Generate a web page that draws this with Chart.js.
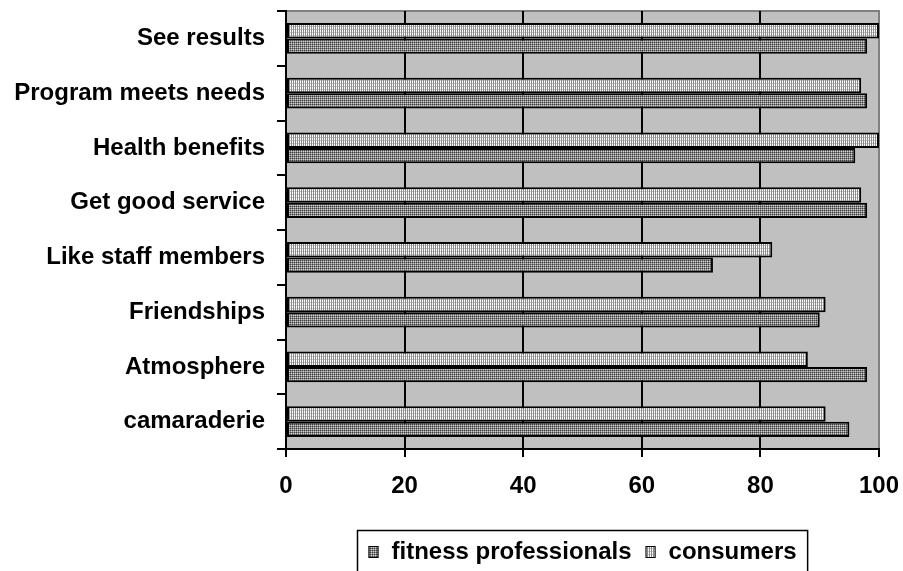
<!DOCTYPE html>
<html>
<head>
<meta charset="utf-8">
<script src="https://cdn.jsdelivr.net/npm/chart.js@4/dist/chart.umd.min.js"></script>
<style>
  html, body { margin: 0; padding: 0; background: #ffffff; }
  #wrap { width: 903px; height: 571px; position: relative; }
</style>
</head>
<body>
<div id="wrap"><canvas id="chart" width="903" height="571"></canvas></div>
<script>
// Reasons for staying with a fitness program (% agreeing)
const categories = [
  'See results',
  'Program meets needs',
  'Health benefits',
  'Get good service',
  'Like staff members',
  'Friendships',
  'Atmosphere',
  'camaraderie'
];
const consumers = [100, 97, 100, 97, 82, 91, 88, 91];
const fitnessProfessionals = [98, 98, 96, 98, 72, 90, 98, 95];
const xTicks = [0, 20, 40, 60, 80, 100];

const FONT = '"Liberation Sans", Arial, Helvetica, sans-serif';

// Fine hatch fills for the two series
function makePattern(draw, w, h) {
  const c = document.createElement('canvas');
  c.width = w; c.height = h;
  const g = c.getContext('2d');
  draw(g);
  return g.createPattern(c, 'repeat');
}
const lightFill = makePattern(g => {
  g.fillStyle = '#ffffff'; g.fillRect(0, 0, 2, 3);
  g.fillStyle = '#8c8c8c'; g.fillRect(1, 0, 1, 3);
  g.fillStyle = '#c8c8c8'; g.fillRect(0, 2, 1, 1);
}, 2, 3);
const darkFill = makePattern(g => {
  g.fillStyle = '#d0d0d0'; g.fillRect(0, 0, 2, 2);
  g.fillStyle = '#404040'; g.fillRect(0, 0, 1, 1);
  g.fillStyle = '#858585'; g.fillRect(1, 0, 1, 1); g.fillRect(0, 1, 1, 1);
}, 2, 2);

// Gray plot area with a thin gray frame on the top and right
const plotBackground = {
  id: 'plotBackground',
  beforeDraw(chart) {
    const { ctx, chartArea: a } = chart;
    ctx.save();
    ctx.fillStyle = '#c0c0c0';
    ctx.fillRect(a.left, a.top, a.right - a.left, a.bottom - a.top);
    ctx.strokeStyle = '#808080';
    ctx.lineWidth = 2;
    ctx.beginPath();
    ctx.moveTo(a.left, a.top);
    ctx.lineTo(a.right, a.top);
    ctx.lineTo(a.right, a.bottom);
    ctx.stroke();
    ctx.restore();
  }
};

// Boxed legend under the axis, professionals listed first
const boxedLegend = {
  id: 'boxedLegend',
  afterDraw(chart) {
    const { ctx } = chart;
    const items = chart.data.datasets.slice().reverse();
    ctx.save();
    ctx.font = 'bold 24px ' + FONT;
    ctx.textBaseline = 'middle';
    const sw = 10, gapSwatch = 13, gapItem = 14, pad = 11;
    let total = 0;
    items.forEach((d, i) => {
      total += sw + gapSwatch + ctx.measureText(d.label).width;
      if (i < items.length - 1) total += gapItem;
    });
    const cx = (chart.chartArea.left + chart.chartArea.right) / 2;
    const boxLeft = Math.round(cx - total / 2 - pad) + 0.5;
    const boxTop = 530.5;
    const boxW = total + pad * 2;
    ctx.lineWidth = 1.5;
    ctx.strokeStyle = '#000';
    ctx.strokeRect(boxLeft, boxTop, boxW, 46);
    let x = boxLeft + pad;
    const cy = 552;
    items.forEach(d => {
      ctx.fillStyle = d.backgroundColor;
      ctx.fillRect(x, cy - 6, sw, 12);
      ctx.lineWidth = 1;
      ctx.strokeRect(x + 0.5, cy - 5.5, sw - 1, 11);
      x += sw + gapSwatch;
      ctx.fillStyle = '#000';
      ctx.fillText(d.label, x, cy);
      x += ctx.measureText(d.label).width + gapItem;
    });
    ctx.restore();
  }
};

const barStyle = {
  borderColor: '#000',
  borderWidth: 2,
  borderSkipped: false,
  categoryPercentage: 0.56,
  barPercentage: 1
};

new Chart(document.getElementById('chart'), {
  type: 'bar',
  data: {
    labels: categories,
    datasets: [
      Object.assign({ label: 'consumers', data: consumers, backgroundColor: lightFill }, barStyle),
      Object.assign({ label: 'fitness professionals', data: fitnessProfessionals, backgroundColor: darkFill }, barStyle)
    ]
  },
  options: {
    indexAxis: 'y',
    responsive: false,
    animation: false,
    devicePixelRatio: 1,
    layout: { padding: { top: 11, right: 24, left: 0, bottom: 0 } },
    plugins: {
      legend: { display: false },
      tooltip: { enabled: false }
    },
    scales: {
      x: {
        min: 0,
        max: 100,
        afterBuildTicks(scale) { scale.ticks = xTicks.map(v => ({ value: v })); },
        afterFit(scale) {
          scale.height = 122;
          scale.paddingLeft = 0;
          scale.paddingRight = 0;
        },
        border: { display: true, color: '#000', width: 2 },
        grid: {
          color: c => (c.tick && c.tick.value === 100) ? 'rgba(0,0,0,0)' : '#000',
          lineWidth: 2,
          tickColor: '#000',
          tickLength: 8,
          tickWidth: 2
        },
        ticks: {
          color: '#000',
          padding: 15,
          font: { family: FONT, size: 24, weight: 'bold' },
          maxRotation: 0
        }
      },
      y: {
        afterFit(scale) {
          scale.width = 286;
          scale.paddingTop = 0;
          scale.paddingBottom = 0;
        },
        border: { display: true, color: '#000', width: 2 },
        grid: {
          drawOnChartArea: false,
          offset: true,
          color: '#000',
          tickLength: 9,
          lineWidth: 2
        },
        ticks: {
          color: '#000',
          padding: 12,
          font: { family: FONT, size: 24, weight: 'bold' }
        }
      }
    }
  },
  plugins: [plotBackground, boxedLegend]
});
</script>
</body>
</html>
